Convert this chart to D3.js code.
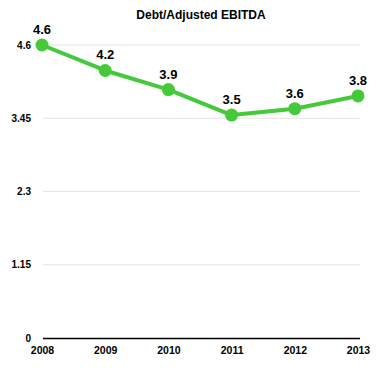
<!DOCTYPE html>
<html><head><meta charset="utf-8">
<script src="https://cdn.jsdelivr.net/npm/d3@7"></script>
<style>body{margin:0;background:#fff}svg{display:block;font-family:"Liberation Sans",Arial,sans-serif}</style>
</head><body><svg id="c" width="388" height="371"></svg>
<script>
const years = ["2008","2009","2010","2011","2012","2013"];
const values = [4.6, 4.2, 3.9, 3.5, 3.6, 3.8];
const labels = ["4.6","4.2","3.9","3.5","3.6","3.8"];
const yTicks = [0, 1.15, 2.3, 3.45, 4.6];
const yTickLabels = ["0","1.15","2.3","3.45","4.6"];
const title = "Debt/Adjusted EBITDA";

const svg = d3.select("#c");
const x = d3.scalePoint().domain(years).range([42, 358]);
const y = d3.scaleLinear().domain([0, 4.6]).range([338, 45]);
const green = "#45c93a";

svg.append("text").attr("x", 201).attr("y", 18.5).attr("text-anchor","middle")
  .attr("font-weight","bold").attr("font-size",12).text(title);

// gridlines
svg.append("g").selectAll("line").data(yTicks.filter(d=>d>0)).join("line")
  .attr("x1",43).attr("x2",360).attr("y1",d=>y(d)).attr("y2",d=>y(d))
  .attr("stroke","#e4e4e4").attr("stroke-width",1);

// y axis labels
const yAxis = d3.axisLeft(y).tickValues(yTicks).tickFormat((d,i)=>yTickLabels[i]).tickSize(0).tickPadding(0);
const gy = svg.append("g").attr("transform","translate(31,0)").call(yAxis);
gy.select(".domain").remove();
gy.selectAll("text").attr("font-size",10).attr("font-weight","bold").attr("fill","#000")
  .attr("font-family","Liberation Sans, Arial, sans-serif");

// x axis
const xAxis = d3.axisBottom(x).tickSize(0).tickPadding(9);
const gx = svg.append("g").attr("transform","translate(0,338)").call(xAxis);
gx.select(".domain").remove();
gx.selectAll("text").attr("font-size",10.5).attr("font-weight","bold").attr("fill","#000")
  .attr("font-family","Liberation Sans, Arial, sans-serif");
svg.append("line").attr("x1",43).attr("x2",360).attr("y1",338.5).attr("y2",338.5)
  .attr("stroke","#000").attr("stroke-width",1.5);

// line
const line = d3.line().x((d,i)=>x(years[i])).y(d=>y(d));
svg.append("path").datum(values).attr("d",line).attr("fill","none")
  .attr("stroke",green).attr("stroke-width",4).attr("stroke-linejoin","round");
svg.append("g").selectAll("circle").data(values).join("circle")
  .attr("cx",(d,i)=>x(years[i])).attr("cy",d=>y(d)).attr("r",6.5).attr("fill",green);

svg.append("g").selectAll("text").data(values).join("text")
  .attr("x",(d,i)=>x(years[i])).attr("y",d=>y(d)-11).attr("text-anchor","middle")
  .attr("font-size",13).attr("font-weight","bold").text((d,i)=>labels[i]);
</script></body></html>
